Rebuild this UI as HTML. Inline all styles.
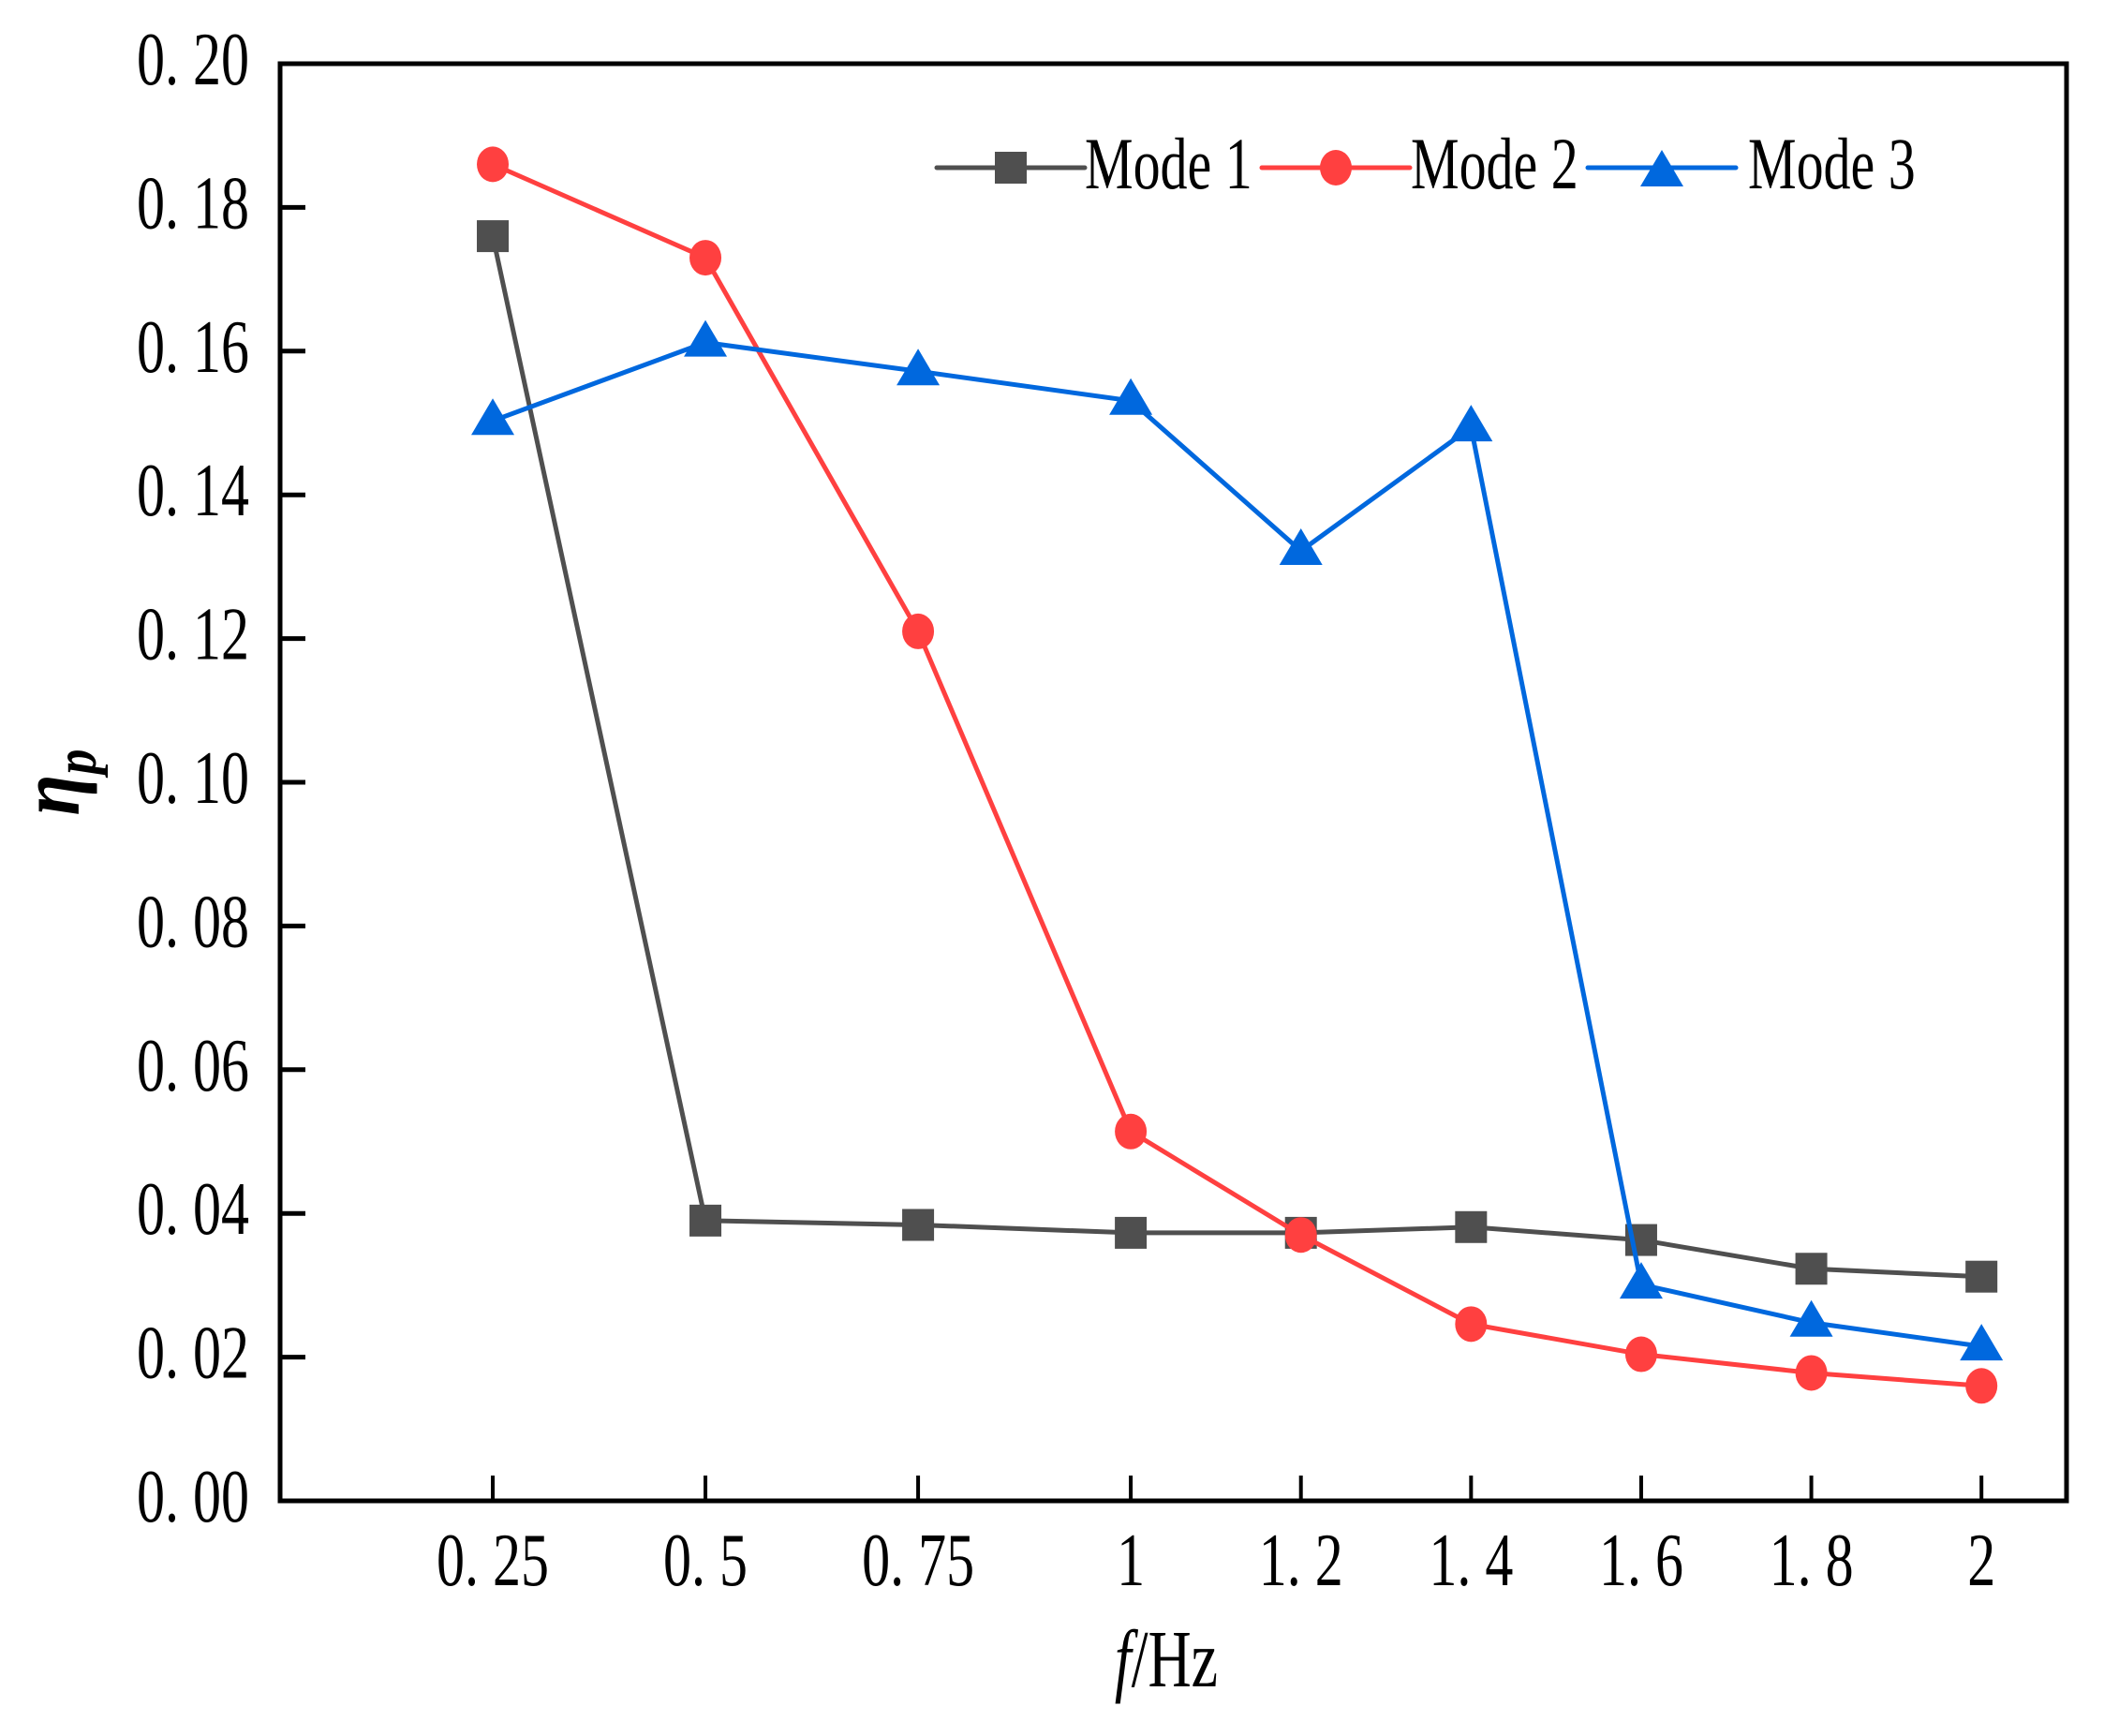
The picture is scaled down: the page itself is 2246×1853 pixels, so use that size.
<!DOCTYPE html>
<html><head><meta charset="utf-8"><style>
html,body{margin:0;padding:0;background:#fff;}
svg{display:block;}
text{font-family:"Liberation Serif",serif;fill:#000;}
</style></head><body>
<svg id="chart" width="2246" height="1853" viewBox="0 0 2246 1853" xmlns="http://www.w3.org/2000/svg">
<g id="plot"></g>
<text font-size="80" font-weight="bold" font-style="italic" text-anchor="middle" transform="translate(84 835) rotate(-90) scale(1 1.15)" x="0" y="0">η<tspan font-size="54" dy="15">p</tspan></text>
<text font-size="64" text-anchor="middle" transform="translate(1245 1800) scale(1 1.35)" x="0" y="0"><tspan font-style="italic">f</tspan>/Hz</text>
</svg>
<script>
const xCats = [0.25, 0.5, 0.75, 1, 1.2, 1.4, 1.6, 1.8, 2];
const xTickLabels = ["0. 25","0. 5","0. 75","1","1. 2","1. 4","1. 6","1. 8","2"];
const yTicks = [0,0.02,0.04,0.06,0.08,0.10,0.12,0.14,0.16,0.18,0.20];
const yTickLabels = ["0. 00","0. 02","0. 04","0. 06","0. 08","0. 10","0. 12","0. 14","0. 16","0. 18","0. 20"];
const mode1 = [0.176,0.039,0.0384,0.0373,0.0373,0.0381,0.0363,0.0323,0.0312];
const mode2 = [0.186,0.173,0.121,0.0514,0.037,0.0246,0.0204,0.0178,0.016];
const mode3 = [0.1503,0.1612,0.1572,0.1531,0.1322,0.1494,0.0301,0.0248,0.0215];
const seriesNames = ["Mode 1","Mode 2","Mode 3"];

const NS="http://www.w3.org/2000/svg";
const L=299,R=2206,T=68,B=1602;
const xs=f=>L+(f-0)/(2.1)*(R-L);
const ys=v=>B-(v/0.2)*(B-T);
const g=document.getElementById('plot');
function mk(tag,attrs,parent){const e=document.createElementNS(NS,tag);for(const k in attrs)e.setAttribute(k,attrs[k]);(parent||g).appendChild(e);return e;}
function txt(x,y,s,anchor,size,parent){
  const t=mk('text',{x:0,y:0,'font-size':size,'text-anchor':anchor,transform:`translate(${x} ${y}) scale(1 1.35)`},parent);
  t.textContent=s;return t;
}

const fr=mk('rect',{x:L,y:T,width:R-L,height:B-T,fill:'none',stroke:'#000','stroke-width':5});


yTicks.forEach((v,i)=>{
  const t=mk('line',{x1:L,x2:L+27,y1:ys(v),y2:ys(v),stroke:'#000','stroke-width':5});
  
  
  const lb=txt(266,ys(v)+22,yTickLabels[i],'end',60);
  
  
});
xCats.forEach((f,i)=>{
  const t=mk('line',{x1:xs(f),x2:xs(f),y1:B,y2:B-27,stroke:'#000','stroke-width':4});
  
  
  const lb=txt(xs(f),1692,xTickLabels[i],'middle',60);
  
  
});

const colors=['#4f4f4f','#ff4040','#0068de'];
function marker(kind,cx,cy,col,parent){
  let m;
  if(kind===0)m=mk('rect',{x:cx-17,y:cy-17,width:34,height:34,fill:col},parent);
  else if(kind===1)m=mk('ellipse',{cx:cx,cy:cy,rx:17,ry:19,fill:col},parent);
  else m=mk('polygon',{points:`${cx},${cy-24} ${cx+23},${cy+15} ${cx-23},${cy+15}`,fill:col},parent);
  return m;
}
[mode1,mode2,mode3].forEach((data,s)=>{
  const sg=mk('g',{});
  
  
  const pl=mk('polyline',{points:data.map((v,i)=>xs(xCats[i])+','+ys(v)).join(' '),fill:'none',stroke:colors[s],'stroke-width':5},sg);
  
  
  data.forEach((v,i)=>{
    const m=marker(s,xs(xCats[i]),ys(v),colors[s],sg);
    
    
  });
});

const lg=mk('g',{});


const lx=[1000,1347,1695], tx=[1158,1506,1866];
seriesNames.forEach((n,s)=>{
  const eg=mk('g',{},lg);
  
  
  mk('line',{x1:lx[s],x2:lx[s]+158,y1:179,y2:179,stroke:colors[s],'stroke-width':5,'stroke-linecap':'round'},eg);
  marker(s,lx[s]+79,s===2?184:179,colors[s],eg);
  txt(tx[s],201,n,'start',58,eg);
});
</script>
</body></html>
